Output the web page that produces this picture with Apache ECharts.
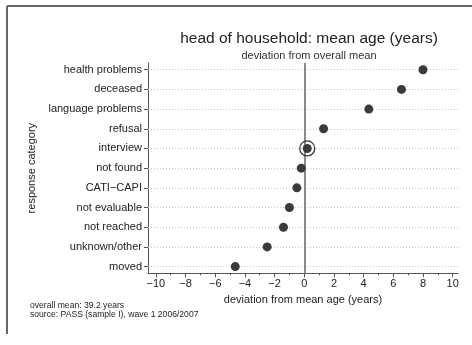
<!DOCTYPE html>
<html><head><meta charset="utf-8">
<script src="https://cdn.jsdelivr.net/npm/echarts@6/dist/echarts.min.js"></script>
<style>html,body{margin:0;padding:0;background:#fff}#c{width:472px;height:345px}</style>
</head><body><div id="c"></div>
<script>
const categories = ["health problems","deceased","language problems","refusal","interview","not found","CATI\u2212CAPI","not evaluable","not reached","unknown/other","moved"];
const deviations = [8.0, 6.55, 4.35, 1.3, 0.2, -0.2, -0.5, -1.0, -1.4, -2.5, -4.65];
const highlighted = "interview";
const xMajorTicks = [-10,-8,-6,-4,-2,0,2,4,6,8,10];
const xMinorTicks = [-9,-7,-5,-3,-1,1,3,5,7,9];
const titleText = "head of household: mean age (years)";
const subtitleText = "deviation from overall mean";
const xName = "deviation from mean age (years)";
const yName = "response category";
const notes = ["overall mean: 39.2 years", "source: PASS (sample I), wave 1 2006/2007"];

const FONT = '"Liberation Sans", Arial, Helvetica, sans-serif';
const idx = categories.map((c,i)=>i);
const fmtNum = v => (v < 0 ? '\u2212' + Math.abs(v) : String(v));
const hi = categories.indexOf(highlighted);

const chart = echarts.init(document.getElementById('c'), null, {renderer:'canvas'});
const xMin = -10.53, xMax = 10.36;
chart.setOption({
  animation:false,
  backgroundColor:'#fff',
  title:[
    {text:titleText, left:304, top:26, textAlign:'center',
     textStyle:{fontFamily:FONT, fontSize:15.5, fontWeight:'normal', color:'#222'}},
    {text:subtitleText, left:304, top:45, textAlign:'center',
     textStyle:{fontFamily:FONT, fontSize:11, fontWeight:'normal', color:'#333'}}
  ],
  graphic:[
    {type:'line', shape:{x1:7, y1:6, x2:472, y2:6}, style:{stroke:'#666', lineWidth:2}, silent:true},
    {type:'line', shape:{x1:7, y1:6, x2:7, y2:334}, style:{stroke:'#666', lineWidth:2}, silent:true},
    {type:'text', left:30, top:301, style:{text:notes.join('\n'), font:'8.6px '+FONT, fill:'#222', lineHeight:9}}
  ],
  grid:{left:148, right:14, top:63, bottom:71.7, containLabel:false},
  xAxis:[
    {type:'value', min:xMin, max:xMax, position:'bottom',
     name:xName, nameLocation:'middle', nameGap:19,
     nameTextStyle:{fontFamily:FONT, fontSize:11, color:'#222'},
     axisLine:{show:true, onZero:false, lineStyle:{color:'#555', width:1}},
     axisTick:{show:true, length:4, inside:false, customValues:xMajorTicks, lineStyle:{color:'#555'}},
     axisLabel:{show:true, customValues:xMajorTicks, formatter:fmtNum, margin:5,
       fontFamily:FONT, fontSize:11, color:'#222'},
     splitLine:{show:false}},
    {type:'value', min:xMin, max:xMax, position:'bottom', offset:0,
     axisLine:{show:false, onZero:false},
     axisTick:{show:true, length:2, customValues:xMinorTicks, lineStyle:{color:'#555'}},
     axisLabel:{show:false}, splitLine:{show:false}}
  ],
  yAxis:{type:'value', inverse:true, min:-0.34, max:categories.length-1+0.34,
    name:yName, nameLocation:'middle', nameGap:110, nameRotate:90,
    nameTextStyle:{fontFamily:FONT, fontSize:11, color:'#222'},
    axisLine:{show:true, onZero:false, lineStyle:{color:'#555', width:1}},
    axisTick:{show:true, length:4, customValues:idx, lineStyle:{color:'#555'}},
    axisLabel:{show:true, customValues:idx, formatter:v=>categories[Math.round(v)] || '',
      margin:6, fontFamily:FONT, fontSize:11, color:'#222'},
    splitLine:{show:false}},
  series:[
    {type:'scatter', name:'grid', data:[], z:1, silent:true,
     markLine:{silent:true, z:1, symbol:'none', animation:false, label:{show:false},
       data: idx.map(i=>({yAxis:i, lineStyle:{color:'#c8c8c8', width:1, type:[1,2]}}))
         .concat([{xAxis:0, lineStyle:{color:'#8a8a8a', width:2, type:'solid'}}])}},
    {type:'scatter', name:'mean age', symbol:'circle', symbolSize:9, z:3,
     itemStyle:{color:'#3a3a3a', opacity:1},
     data: deviations.map((v,i)=>[v,i])},
    {type:'scatter', name:'ring', symbol:'circle', symbolSize:15, z:3,
     itemStyle:{color:'rgba(0,0,0,0)', borderColor:'#3a3a3a', borderWidth:1.3, opacity:1},
     data: hi >= 0 ? [[deviations[hi], hi]] : []}
  ]
});
</script></body></html>
